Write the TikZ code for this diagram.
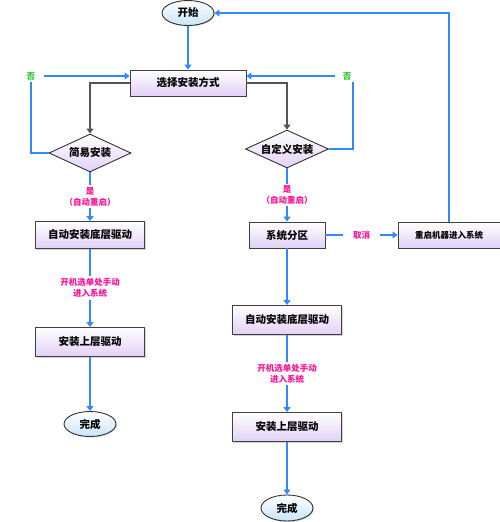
\documentclass[tikz,border=0pt]{standalone}
\usepackage{fontspec}
\setmainfont{Noto Sans CJK SC}
\usetikzlibrary{arrows.meta,shapes.geometric,shadows}

\definecolor{flowblue}{RGB}{51,136,255}
\definecolor{flowgray}{RGB}{85,85,85}
\definecolor{lblpink}{RGB}{255,20,150}
\definecolor{nogreen}{RGB}{40,200,40}
\definecolor{boxlilac}{RGB}{226,208,246}
\definecolor{endblue}{RGB}{200,228,250}

\begin{document}
\begin{tikzpicture}[x=1pt,y=-1pt,
    flow/.style={draw=flowblue, line width=1.3pt, -{Triangle[width=7pt,length=5pt]}},
    flownotip/.style={draw=flowblue, line width=1.3pt},
    grayflow/.style={draw=flowgray, line width=1.5pt, -{Triangle[width=7pt,length=5pt]}},
    stepbox/.style={rectangle, draw=black!75, line width=0.9pt, top color=white, bottom color=boxlilac,
        drop shadow={shadow xshift=1.2pt, shadow yshift=-1.2pt, opacity=0.35},
        font=\bfseries\fontsize{10.5}{12}\selectfont, minimum width=109pt, minimum height=28pt, inner sep=2pt},
    choice/.style={diamond, aspect=2.2, draw=black!80, line width=0.9pt, top color=white, bottom color=boxlilac,
        font=\bfseries\fontsize{10.5}{12}\selectfont, minimum width=82pt, minimum height=38pt, inner sep=0pt},
    terminal/.style={ellipse, draw=black!80, line width=0.9pt, top color=white, bottom color=endblue,
        drop shadow={shadow xshift=1pt, shadow yshift=-1pt, opacity=0.3},
        font=\bfseries\fontsize{10.5}{12}\selectfont, minimum width=52pt, minimum height=25pt, inner sep=0pt},
    lbl/.style={fill=white, text=lblpink, font=\bfseries\fontsize{8.5}{11}\selectfont, align=center, inner sep=2pt},
    nolbl/.style={text=nogreen, font=\bfseries\fontsize{8.5}{10}\selectfont, inner sep=2pt}]

    \useasboundingbox (0,0) rectangle (500,522);

    \node[terminal] (start) at (188,13) {开始};
    \node[stepbox, minimum width=116pt, minimum height=26pt] (choose) at (188,83) {选择安装方式};
    \node[choice] (easy) at (90,153) {简易安装};
    \node[choice, minimum width=83pt] (custom) at (287,149) {自定义安装};
    \node[nolbl] (no1) at (31,76) {否};
    \node[nolbl] (no2) at (347,76) {否};

    \node[stepbox, minimum height=27pt] (easybase) at (90,235) {自动安装底层驱动};
    \node[stepbox, minimum height=29pt] (easyupper) at (90,342) {安装上层驱动};
    \node[terminal] (easyend) at (90,424) {完成};

    \node[stepbox, minimum width=76pt, minimum height=26pt] (part) at (287,235) {系统分区};
    \node[stepbox, minimum width=102pt, minimum height=26pt, font=\bfseries\fontsize{8.5}{10}\selectfont] (restart) at (449,235) {重启机器进入系统};
    \node[stepbox, minimum height=29pt] (custbase) at (287,320) {自动安装底层驱动};
    \node[stepbox, minimum height=29pt] (custupper) at (287,427) {安装上层驱动};
    \node[terminal, minimum height=26pt] (custend) at (287,508) {完成};

    \draw[flow] (start) -- (choose);
    \draw[grayflow] (choose.west) -| (easy.north);
    \draw[grayflow] (choose.east) -| (custom.north);
    \draw[flownotip] (easy.west) -| (no1.south);
    \draw[flow] ([xshift=7pt]no1.east) -- (choose.west |- no1);
    \draw[flownotip] (custom.east) -| ([xshift=6pt]no2.south);
    \draw[flow] ([xshift=-6pt]no2.west) -- (choose.east |- no2);

    \draw[flow] (easy.south) -- node[lbl] {是\\（自动重启）} (easybase);
    \draw[flow] (easybase) -- node[lbl] {开机选单处手动\\进入系统} (easyupper);
    \draw[flow] (easyupper) -- (easyend);

    \draw[flow] (custom.south) -- node[lbl] {是\\（自动重启）} (part);
    \draw[flow] (part) -- node[lbl, inner xsep=10pt] {取消} (restart);
    \draw[flow] (part) -- (custbase);
    \draw[flow] (custbase) -- node[lbl] {开机选单处手动\\进入系统} (custupper);
    \draw[flow] (custupper) -- (custend);
    \draw[flow] (restart.north) |- (start.east);

\end{tikzpicture}
\end{document}
